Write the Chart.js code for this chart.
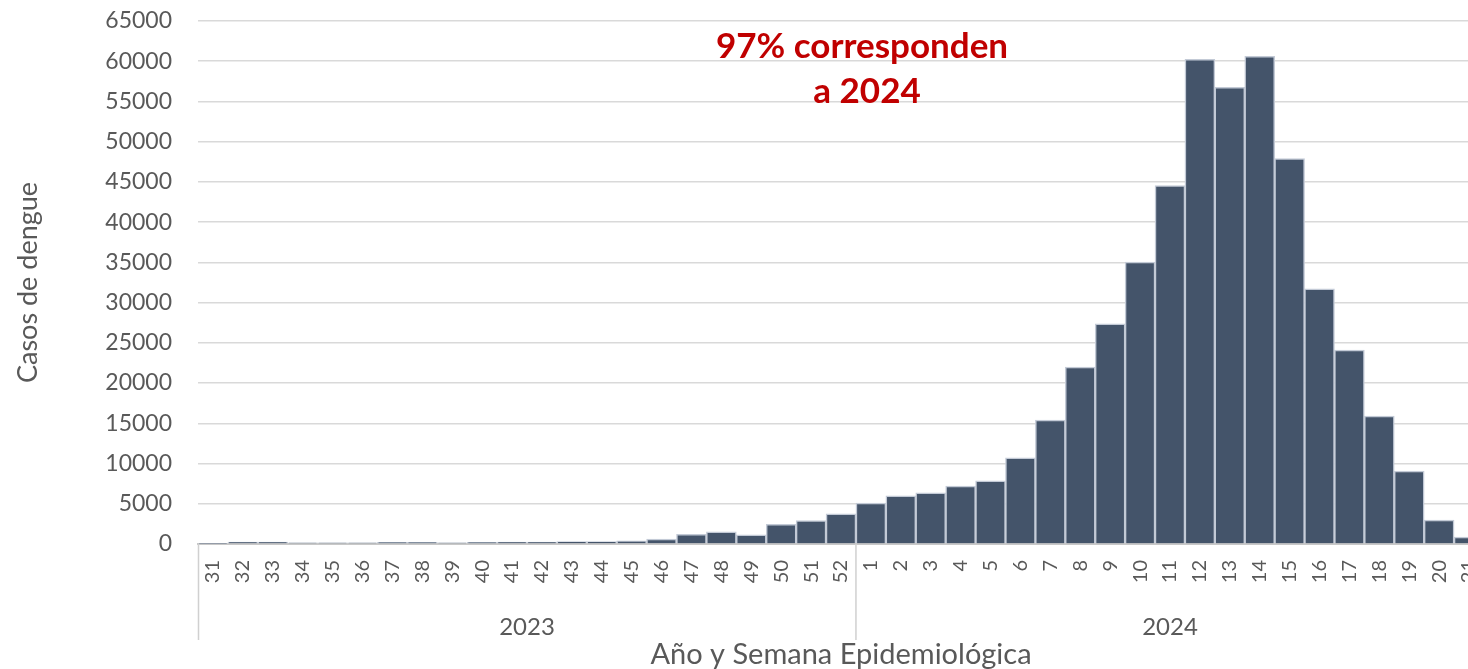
<!DOCTYPE html>
<html>
<head>
<meta charset="utf-8">
<script src="https://cdn.jsdelivr.net/npm/chart.js@4.4.1/dist/chart.umd.min.js"></script>
<style>
  html, body { margin: 0; padding: 0; background: #fff; overflow: hidden; }
  #wrap { width: 1490px; height: 669px; }
</style>
</head>
<body>
<div id="wrap"><canvas id="chart" width="1490" height="669"></canvas></div>
<script>
'use strict';

// semanas epidemiologicas
var weeks2023 = ['31','32','33','34','35','36','37','38','39','40','41','42','43','44','45','46','47','48','49','50','51','52'];
var weeks2024 = ['1','2','3','4','5','6','7','8','9','10','11','12','13','14','15','16','17','18','19','20','21'];
var years = ['2023', '2024'];

// casos de dengue por semana
var cases2023 = [60, 250, 250, 150, 150, 150, 200, 200, 150, 200, 250, 250, 300, 300, 400, 600, 1200, 1500, 1150, 2450, 2900, 3750];
var cases2024 = [5100, 6000, 6350, 7200, 7850, 10700, 15400, 22000, 27350, 35050, 44550, 60250, 56750, 60600, 47900, 31700, 24100, 15900, 9070, 2980, 870];

var yMin = 0, yMax = 65000, yStep = 5000;

var labels = weeks2023.concat(weeks2024);
var values = cases2023.concat(cases2024);

var textColor = '#595959';
var baseFont = 'Lato, "Open Sans", sans-serif';

// year groups under the week labels + divider lines + annotation
var groupPlugin = {
    id: 'yearGroups',
    afterDraw: function(chart) {
        var ctx = chart.ctx;
        var x = chart.scales.x;
        var n1 = weeks2023.length;
        var top = x.top;
        var lineBottom = 640;
        var half = (x.getPixelForValue(1) - x.getPixelForValue(0)) / 2;
        var split = x.getPixelForValue(n1 - 1) + half;
        var left = x.left;
        var right = x.right;

        ctx.save();
        ctx.strokeStyle = '#d0d0d0';
        ctx.lineWidth = 1.5;
        ctx.beginPath();
        ctx.moveTo(left + 0.5, top);
        ctx.lineTo(left + 0.5, lineBottom);
        ctx.moveTo(split, top);
        ctx.lineTo(split, lineBottom);
        ctx.stroke();

        ctx.fillStyle = textColor;
        ctx.font = '24px ' + baseFont;
        ctx.textAlign = 'center';
        ctx.textBaseline = 'middle';
        ctx.fillText(years[0], (left + split) / 2, 627);
        ctx.fillText(years[1], (split + right) / 2, 627);

        ctx.fillStyle = '#C00000';
        ctx.font = 'bold 35px ' + baseFont;
        ctx.fillText('97% corresponden', 862, 47);
        ctx.fillText('a 2024', 867, 92);
        ctx.restore();
    }
};

var ctx = document.getElementById('chart').getContext('2d');
var chart = new Chart(ctx, {
    type: 'bar',
    data: {
        labels: labels,
        datasets: [{
            label: 'Casos de dengue',
            data: values,
            backgroundColor: '#44546A',
            borderColor: '#c3cad6',
            borderWidth: 1.5,
            barPercentage: 1,
            categoryPercentage: 1
        }]
    },
    options: {
        responsive: false,
        animation: false,
        layout: { padding: { top: 21, right: 6, left: 0, bottom: 0 } },
        plugins: {
            legend: { display: false },
            tooltip: { enabled: false }
        },
        scales: {
            x: {
                grid: { display: false, drawTicks: false },
                border: { display: true, color: '#c8c8c8', width: 2 },
                ticks: {
                    autoSkip: false,
                    minRotation: 90,
                    maxRotation: 90,
                    padding: 16,
                    color: textColor,
                    font: { family: baseFont, size: 20 }
                },
                title: {
                    display: true,
                    text: 'Año y Semana Epidemiológica',
                    color: textColor,
                    font: { family: baseFont, size: 29 },
                    padding: { top: 0, bottom: -3 }
                },
                afterFit: function(scale) {
                    scale.height = 125;
                    scale.paddingLeft = 0;
                    scale.paddingRight = 0;
                }
            },
            y: {
                min: yMin,
                max: yMax,
                grid: { color: '#d9d9d9', lineWidth: 1.5, drawTicks: false },
                border: { display: false },
                ticks: {
                    stepSize: yStep,
                    padding: 26,
                    color: textColor,
                    font: { family: baseFont, size: 23 },
                    callback: function(v) { return String(v); }
                },
                title: {
                    display: true,
                    text: 'Casos de dengue',
                    color: textColor,
                    font: { family: baseFont, size: 27 },
                    padding: { top: 12, bottom: 0 }
                },
                afterFit: function(scale) {
                    scale.width = 198;
                    scale.paddingTop = 0;
                    scale.paddingBottom = 0;
                }
            }
        }
    },
    plugins: [groupPlugin]
});
</script>
</body>
</html>
